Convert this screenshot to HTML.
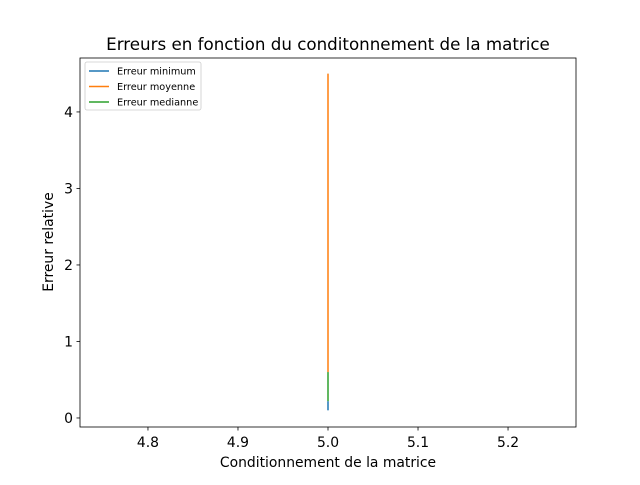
<!DOCTYPE html>
<html><head><meta charset="utf-8"><style>
body{margin:0;background:#fff;}
svg{font-family:"DejaVu Sans","Liberation Sans",sans-serif;}
</style></head><body>
<svg id="chart" width="640" height="480"></svg>
<script>
const xTicks=[4.8,4.9,5.0,5.1,5.2];
const xTickLabels=["4.8","4.9","5.0","5.1","5.2"];
const yTicks=[0,1,2,3,4];
const seriesNames=["Erreur minimum","Erreur moyenne","Erreur medianne"];
const seriesX=[5,5];
const minVals=[0.1,0.22];
const meanVals=[0.6,4.5];
const medVals=[0.22,0.6];
const colors=["#1f77b4","#ff7f0e","#2ca02c"];
const L=80,R=576,T=58,B=427;
const xMin=4.7245,xMax=5.2755,yMin=-0.118,yMax=4.705;
const xs=v=>L+(v-xMin)/(xMax-xMin)*(R-L);
const ys=v=>B-(v-yMin)/(yMax-yMin)*(B-T);
const svg=document.getElementById('chart');
const NS="http://www.w3.org/2000/svg";
function mk(t,a,txt){const e=document.createElementNS(NS,t);for(const k in a)e.setAttribute(k,a[k]);if(txt!=null)e.textContent=txt;svg.appendChild(e);return e;}
let e;
[minVals,meanVals,medVals].forEach((vals,i)=>{
 const pts=vals.map((v,j)=>xs(seriesX[j])+','+ys(v)).join(' ');
 e=mk('polyline',{points:pts,fill:'none',stroke:colors[i],'stroke-width':1.5});
 
 
});
e=mk('rect',{x:L,y:T,width:R-L,height:B-T,fill:'none',stroke:'#000','stroke-width':0.8});


xTicks.forEach((v,i)=>{
 const x=xs(v);
 mk('line',{x1:x,x2:x,y1:B,y2:B+3.5,stroke:'#000','stroke-width':0.8});
 e=mk('text',{x:x,y:B+20,'text-anchor':'middle','font-size':13.9,fill:'#000'},xTickLabels[i]);
 
 
});
yTicks.forEach(v=>{
 const y=ys(v);
 mk('line',{x1:L-3.5,x2:L,y1:y,y2:y,stroke:'#000','stroke-width':0.8});
 e=mk('text',{x:L-7,y:y+5,'text-anchor':'end','font-size':13.9,fill:'#000'},String(v));
 
 
});
e=mk('text',{x:328,y:50,'text-anchor':'middle','font-size':16.7,fill:'#000'},'Erreurs en fonction du conditonnement de la matrice');


e=mk('text',{x:328,y:467,'text-anchor':'middle','font-size':13.9,fill:'#000'},'Conditionnement de la matrice');


e=mk('text',{x:53,y:242,'text-anchor':'middle','font-size':13.9,fill:'#000',transform:'rotate(-90 53 242)'},'Erreur relative');


e=mk('rect',{x:85,y:62,width:116,height:48,rx:2,fill:'#fff',stroke:'#ccc','stroke-width':0.8});


seriesNames.forEach((n,i)=>{
 const y=71+i*15.5;
 mk('line',{x1:89,x2:109,y1:y,y2:y,stroke:colors[i],'stroke-width':1.5});
 e=mk('text',{x:117,y:y+3.5,'font-size':9.7,fill:'#000'},n);
 
 
});
</script>
</body></html>
